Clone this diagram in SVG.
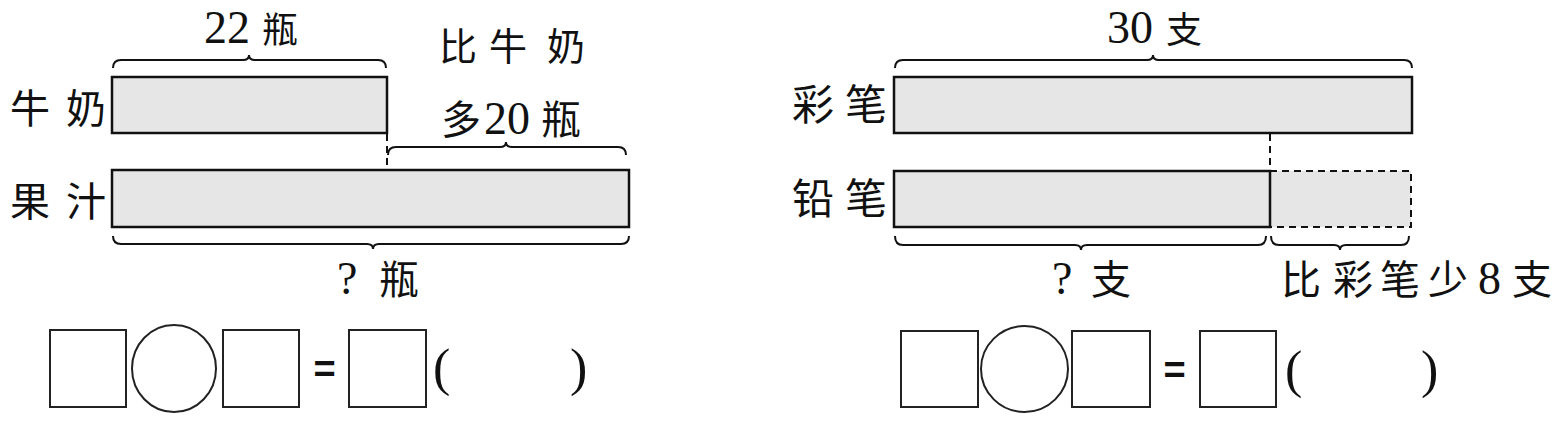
<svg xmlns="http://www.w3.org/2000/svg" width="1566" height="421" viewBox="0 0 1566 421">
<style>
.bar{fill:#e6e6e6;stroke:#111;stroke-width:2.5}
.brace{fill:none;stroke:#111;stroke-width:2}
.dash{fill:none;stroke:#111;stroke-width:2;stroke-dasharray:7 5}
.box{fill:#fff;stroke:#222;stroke-width:2}
.cn{font-family:"Noto Sans CJK SC","Liberation Serif",serif;font-size:40px;fill:#111}
.top{font-size:36px}
.num{font-family:"Liberation Serif","Noto Sans CJK SC",serif;font-size:46px;fill:#111}
.sym{font-family:"Liberation Serif",serif;font-size:52px;fill:#111}
.eq{font-family:"Liberation Sans",sans-serif;font-size:38px;font-weight:bold;fill:#111}
</style>
<rect width="1566" height="421" fill="#fff"/>

<!-- Left problem -->
<g id="milk">
<rect class="bar" x="112" y="77" width="275" height="56"/>
<text class="cn" y="123"><tspan x="10">牛</tspan><tspan x="66">奶</tspan></text>
</g>
<g id="juice">
<rect class="bar" x="112" y="170" width="517" height="57"/>
<text class="cn" y="216"><tspan x="10">果</tspan><tspan x="66">汁</tspan></text>
</g>
<g id="label-22">
<text class="num" x="204" y="43">22</text>
<text class="cn top" x="262" y="43">瓶</text>
</g>
<g id="label-more">
<text class="cn" y="60" style="font-size:38px"><tspan x="439">比</tspan><tspan x="489">牛</tspan><tspan x="547">奶</tspan></text>
<text class="cn" x="441" y="134">多</text>
<text class="num" x="484" y="134">20</text>
<text class="cn" x="541" y="134">瓶</text>
</g>
<g id="label-q1">
<text class="num" x="337" y="294">?</text>
<text class="cn" x="379" y="294">瓶</text>
</g>
<g id="connectors-left">
<path class="brace" d="M113,68 Q113,60 121,60 L243,60 Q249,60 249,55 Q249,60 255,60 L378,60 Q386,60 386,68"/>
<path class="brace" d="M388,155 Q388,147 396,147 L500,147 Q506,147 506,142 Q506,147 512,147 L618,147 Q626,147 626,155"/>
<path class="brace" d="M113,236 Q113,244 121,244 L367,244 Q373,244 373,249 Q373,244 379,244 L621,244 Q629,244 629,236"/>
<line class="dash" x1="387" y1="134" x2="387" y2="170"/>
</g>
<g id="equation-left">
<rect class="box" x="50" y="330" width="76" height="77"/>
<ellipse class="box" cx="174" cy="368.5" rx="42" ry="43.5"/>
<rect class="box" x="223" y="330" width="76" height="77"/>
<text class="eq" x="324.5" y="382" text-anchor="middle">=</text>
<rect class="box" x="349" y="330" width="77" height="77"/>
<text class="sym" x="433" y="385">(</text>
<text class="sym" x="570" y="385">)</text>
</g>

<!-- Right problem -->
<g id="colorpen">
<rect class="bar" x="894" y="77" width="518" height="56"/>
<text class="cn" y="120" style="font-size:42px"><tspan x="792">彩</tspan><tspan x="845">笔</tspan></text>
</g>
<g id="pencil">
<rect x="894" y="171" width="517" height="56" fill="#e6e6e6"/>
<rect class="dash" x="1270" y="171" width="141" height="56"/>
<rect class="bar" x="894" y="171" width="376" height="56"/>
<text class="cn" y="214" style="font-size:42px"><tspan x="792">铅</tspan><tspan x="845">笔</tspan></text>
</g>
<g id="label-30">
<text class="num" x="1107" y="43">30</text>
<text class="cn top" x="1166" y="43">支</text>
</g>
<g id="label-q2">
<text class="num" x="1052" y="294">?</text>
<text class="cn" x="1091" y="294">支</text>
</g>
<g id="label-less">
<text class="cn" y="294"><tspan x="1281">比</tspan><tspan x="1333">彩</tspan><tspan x="1380">笔</tspan><tspan x="1428">少</tspan></text>
<text class="num" x="1478" y="294">8</text>
<text class="cn" x="1512" y="294">支</text>
</g>
<g id="connectors-right">
<path class="brace" d="M895,68 Q895,60 903,60 L1147,60 Q1153,60 1153,55 Q1153,60 1159,60 L1404,60 Q1412,60 1412,68"/>
<path class="brace" d="M895,236 Q895,245 903,245 L1075,245 Q1081,245 1081,250 Q1081,245 1087,245 L1258,245 Q1266,245 1266,236"/>
<path class="brace" d="M1271,236 Q1271,245 1279,245 L1334,245 Q1340,245 1340,250 Q1340,245 1346,245 L1401,245 Q1409,245 1409,236"/>
<line class="dash" x1="1270" y1="134" x2="1270" y2="171"/>
</g>
<g id="equation-right">
<rect class="box" x="901" y="331" width="77" height="76"/>
<ellipse class="box" cx="1024.5" cy="369" rx="43.5" ry="43"/>
<rect class="box" x="1072" y="331" width="78" height="76"/>
<text class="eq" x="1174.5" y="383" text-anchor="middle">=</text>
<rect class="box" x="1200" y="331" width="76" height="76"/>
<text class="sym" x="1285" y="387">(</text>
<text class="sym" x="1421" y="387">)</text>
</g>
</svg>
